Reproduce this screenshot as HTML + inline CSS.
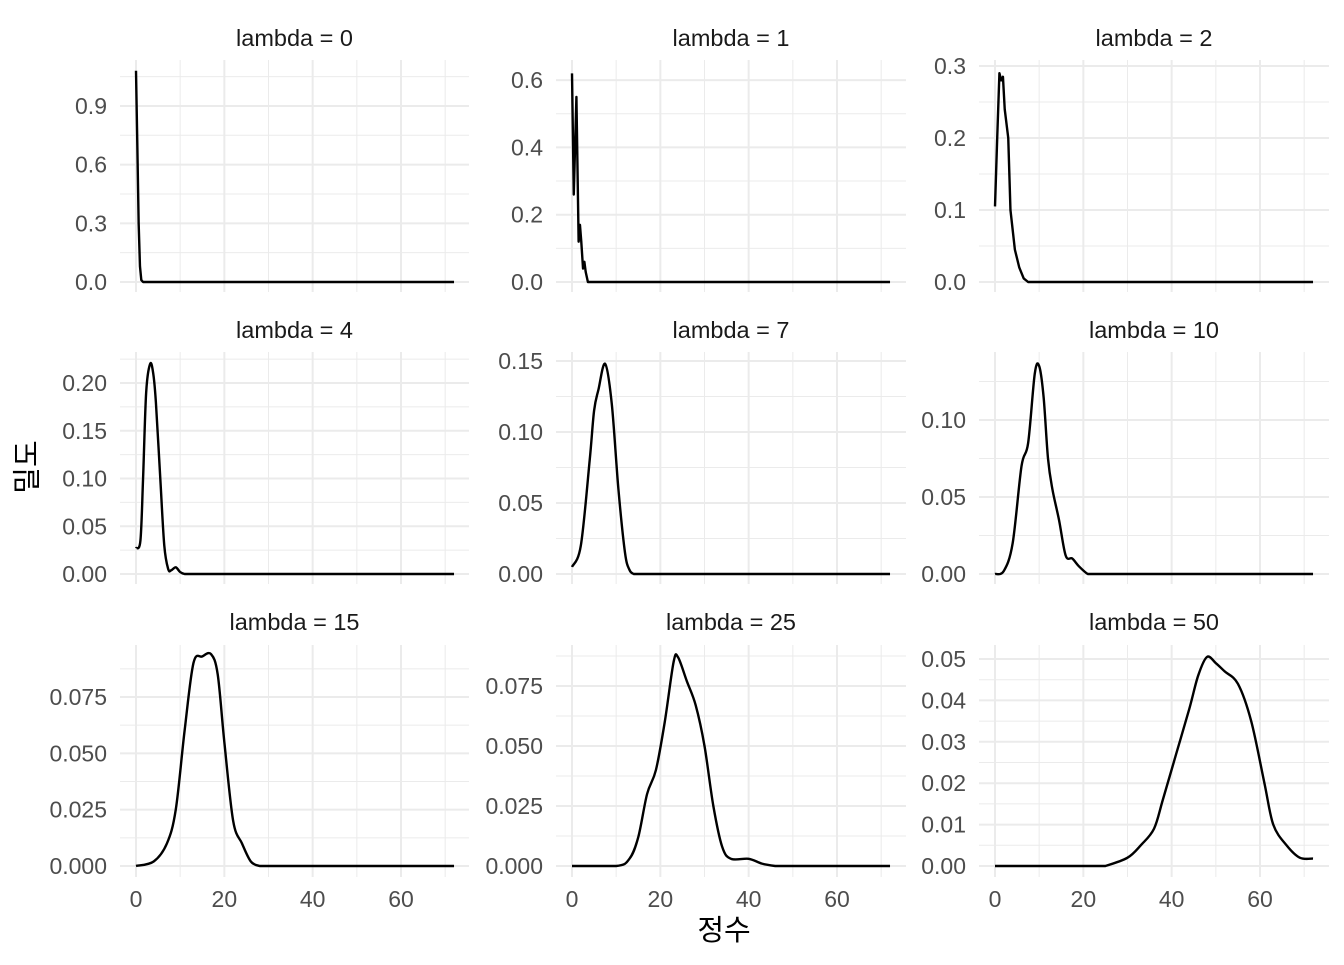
<!DOCTYPE html>
<html><head><meta charset="utf-8"><style>
html,body{margin:0;padding:0;background:#fff;}
svg text{font-family:"Liberation Sans","Noto Sans CJK KR",sans-serif;}
</style></head><body>
<svg id="s" width="1344" height="960" xmlns="http://www.w3.org/2000/svg"></svg>
<script>
const S=document.getElementById('s');let h='';
const cols=[{l:120,r:469,x0:136},{l:556,r:906,x0:572},{l:979,r:1329,x0:995}];
const rows=[{t:60,b:292,y0:282,s:38},{t:352,b:584,y0:574,s:330},{t:645,b:877,y0:866,s:622}];
const k=4.417;
const P=[
{lab:'0',px:19.56/0.1,ticks:[0,0.3,0.6,0.9],fmt:1,lin:1,d:[[0,1.08],[0.3,0.7],[0.6,0.3],[0.9,0.08],[1.2,0.01],[1.6,0],[72,0]]},
{lab:'1',px:67.3/0.2,ticks:[0,0.2,0.4,0.6],fmt:1,lin:1,d:[[0,0.62],[0.4,0.26],[1.0,0.55],[1.5,0.12],[1.8,0.17],[2.1,0.12],[2.5,0.04],[2.8,0.06],[3.1,0.03],[3.6,0],[72,0]]},
{lab:'2',px:72/0.1,ticks:[0,0.1,0.2,0.3],fmt:1,lin:1,d:[[0,0.105],[0.5,0.2],[1,0.29],[1.4,0.28],[1.8,0.285],[2.2,0.24],[3,0.2],[3.5,0.1],[4.5,0.045],[5.5,0.02],[6.5,0.005],[7.5,0],[72,0]]},
{lab:'4',px:191/0.2,ticks:[0,0.05,0.1,0.15,0.2],fmt:2,d:[[0,0.027],[1,0.035],[1.6,0.1],[2.3,0.19],[3.2,0.22],[3.9,0.21],[4.5,0.18],[5.5,0.1],[6.4,0.03],[7.3,0.005],[8,0.004],[9,0.007],[10,0.002],[11,0],[12,0],[72,0]]},
{lab:'7',px:213/0.15,ticks:[0,0.05,0.1,0.15],fmt:2,d:[[0,0.005],[2,0.02],[4,0.08],[5,0.115],[6,0.13],[7.5,0.148],[9,0.12],[10.5,0.06],[12,0.015],[13,0.003],[14,0],[15,0],[72,0]]},
{lab:'10',px:154/0.1,ticks:[0,0.05,0.1],fmt:2,d:[[0,0],[2,0.002],[4,0.02],[6,0.07],[7.5,0.085],[9,0.13],[10,0.135],[11,0.115],[12,0.075],[13,0.055],[14.5,0.035],[16,0.012],[17.5,0.01],[19,0.005],[21,0],[22,0],[72,0]]},
{lab:'15',px:169/0.075,ticks:[0,0.025,0.05,0.075],fmt:3,d:[[0,0],[4,0.002],[7,0.01],[9,0.025],[11,0.06],[13,0.09],[15,0.093],[17,0.094],[18.5,0.085],[20,0.055],[22,0.02],[24,0.01],[26,0.002],[28,0],[29,0],[72,0]]},
{lab:'25',px:180/0.075,ticks:[0,0.025,0.05,0.075],fmt:3,d:[[0,0],[10,0],[13,0.003],[15,0.012],[17,0.03],[19,0.04],[21,0.06],[23,0.085],[24,0.087],[26,0.077],[28,0.067],[30,0.05],[32,0.025],[34,0.008],[36,0.003],[40,0.003],[43,0.001],[46,0],[47,0],[72,0]]},
{lab:'50',px:207/0.05,ticks:[0,0.01,0.02,0.03,0.04,0.05],fmt:2,d:[[0,0],[24,0],[25,0],[30,0.002],[33,0.005],[36,0.009],[38,0.016],[41,0.027],[44,0.038],[46,0.046],[48,0.0505],[50,0.049],[52,0.047],[55,0.044],[58,0.035],[61,0.02],[63,0.01],[66,0.005],[69,0.002],[72,0.0018]]}
];
P.forEach((p,i)=>{
 const c=cols[i%3],r=rows[Math.floor(i/3)];
 const X=v=>c.x0+v*k,Y=v=>r.y0-v*p.px;
 for(const v of [10,30,50,70]) h+=`<line x1="${X(v)}" x2="${X(v)}" y1="${r.t}" y2="${r.b}" stroke="#ebebeb" stroke-width="1"/>`;
 const t=p.ticks,st=t[1]-t[0];
 for(let v=t[0]-st/2;v<t[t.length-1]+st;v+=st){const y=Y(v);if(y>=r.t&&y<=r.b)h+=`<line x1="${c.l}" x2="${c.r}" y1="${y}" y2="${y}" stroke="#ebebeb" stroke-width="1"/>`;}
 for(const v of [0,20,40,60]) h+=`<line x1="${X(v)}" x2="${X(v)}" y1="${r.t}" y2="${r.b}" stroke="#ebebeb" stroke-width="2"/>`;
 for(const v of t){const y=Y(v);h+=`<line x1="${c.l}" x2="${c.r}" y1="${y}" y2="${y}" stroke="#ebebeb" stroke-width="2"/>`;
  h+=`<text x="${c.l-13}" y="${y+8}" font-size="23" fill="#4d4d4d" text-anchor="end">${v.toFixed(p.fmt)}</text>`;}
 let pts=p.d.map(a=>[X(a[0]),Y(a[1])]),d='M'+pts[0].join(',');
 if(p.lin){for(let j=1;j<pts.length;j++)d+='L'+pts[j].join(',');}
 else for(let j=0;j<pts.length-1;j++){const p1=pts[j],p2=pts[j+1];
  if(p1[1]==p2[1]&&p1[1]==r.y0){d+='L'+p2.join(',');continue;}
  const p0=pts[Math.max(j-1,0)],p3=pts[Math.min(j+2,pts.length-1)];
  d+=`C${p1[0]+(p2[0]-p0[0])/6},${p1[1]+(p2[1]-p0[1])/6} ${p2[0]-(p3[0]-p1[0])/6},${p2[1]-(p3[1]-p1[1])/6} ${p2[0]},${p2[1]}`;}
 h+=`<path d="${d}" fill="none" stroke="#000" stroke-width="2.4" stroke-linejoin="round"/>`;
 h+=`<text x="${(c.l+c.r)/2}" y="${r.s+8}" font-size="23.5" fill="#1a1a1a" text-anchor="middle">lambda = ${p.lab}</text>`;
 if(i>=6) for(const v of [0,20,40,60]) h+=`<text x="${X(v)}" y="907" font-size="23" fill="#4d4d4d" text-anchor="middle">${v}</text>`;
});
h+=`<text x="724" y="940" font-size="29" fill="#000" text-anchor="middle">정수</text>`;
h+=`<text transform="translate(37,467) rotate(-90)" font-size="29" fill="#000" text-anchor="middle">밀도</text>`;
S.innerHTML=h;
</script>
</body></html>
